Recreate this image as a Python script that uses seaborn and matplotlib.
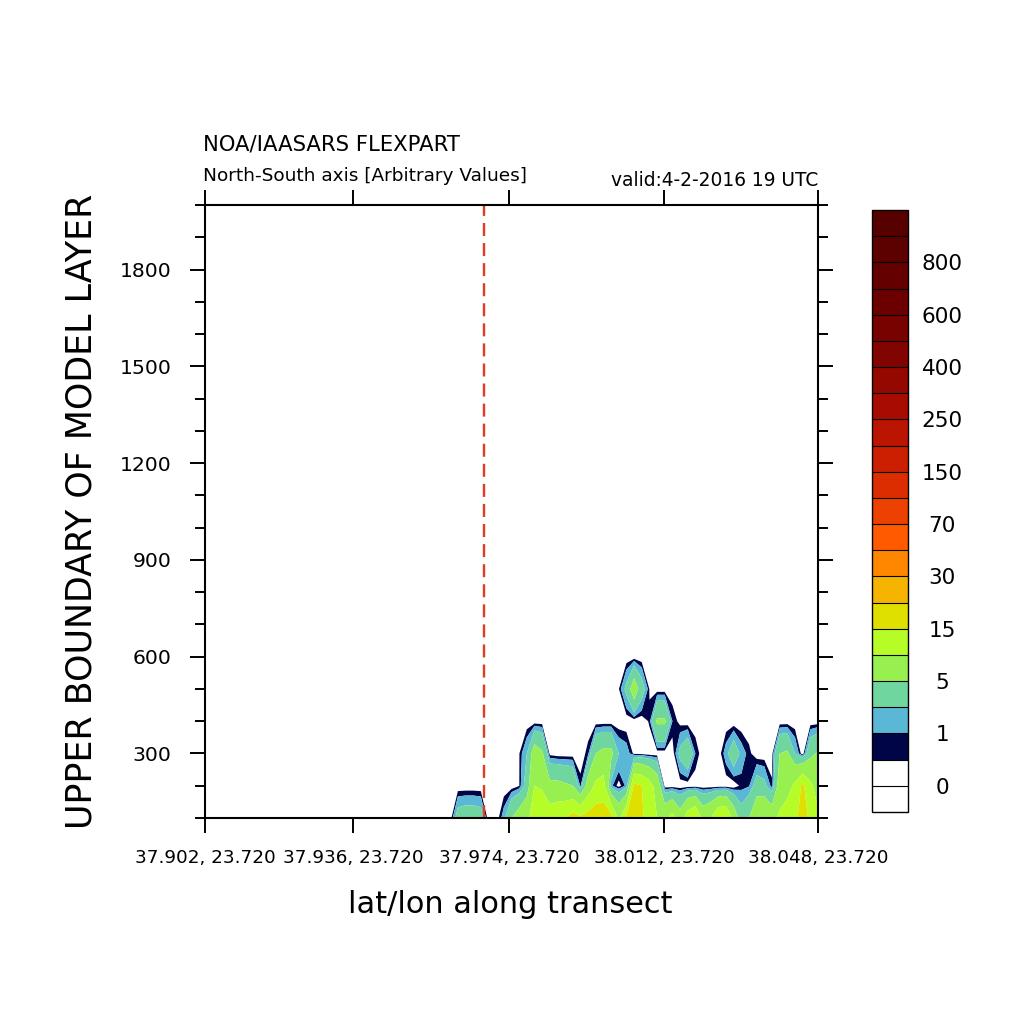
import numpy as np
import seaborn as sns
import matplotlib.pyplot as plt
from matplotlib.colors import ListedColormap, BoundaryNorm
from matplotlib.cm import ScalarMappable
from matplotlib.ticker import MultipleLocator, NullLocator

# transect points (index along the section) and model layer tops
n_points = 81
heights = [100, 200, 300, 400, 500, 600, 2000]

# values, columns 32..80 (left of col 32 the section is empty)
first_col = 32
conc_100 = [0, 3.0, 3.3, 3.3, 3.0, 0, 0, 1.5, 5, 7, 9, 12, 13, 13, 14, 15, 17, 16, 17, 18,
            18, 17, 9, 16, 17, 16, 12, 10, 9, 12, 7, 13, 16, 8, 10, 15, 16, 8, 3, 5,
            9, 10, 8, 11, 13, 14, 17, 14, 11]
conc_200 = [0, 0, 0, 0, 0, 0, 0, 0, 0, 0.45, 3, 10, 9.5, 6, 6, 5.5, 5, 0.8, 7, 11,
            12, 1.2, 0.2, 1.2, 16, 15, 12, 8, 0, 0, 0, 0, 0, 0, 0, 0, 0, 0, 0.7, 0.9,
            3, 2.5, 0.6, 7, 8, 11, 16, 11, 8]
conc_300 = [0, 0, 0, 0, 0, 0, 0, 0, 0, 0.45, 2, 7, 5.5, 0.2, 0, 0, 0, 0, 0.8, 5,
            6, 6, 2, 1.5, 0.3, 0.2, 0, 0, 0, 0, 2.5, 4, 1.0, 0, 0, 0, 1.5, 3.5, 1.5, 0.7,
            0, 0, 0.2, 5, 5.5, 2, 0, 4, 5.5]
conc_400 = [0, 0, 0, 0, 0, 0, 0, 0, 0, 0, 0, 0, 0, 0, 0, 0, 0, 0, 0, 0,
            0, 0, 0, 0, 0, 0, 0.6, 5.5, 5.5, 1.0, 0.2, 0, 0, 0, 0, 0, 0, 0, 0, 0,
            0, 0, 0, 0, 0, 0, 0, 0, 0]
conc_500 = [0, 0, 0, 0, 0, 0, 0, 0, 0, 0, 0, 0, 0, 0, 0, 0, 0, 0, 0, 0,
            0, 0, 0.45, 2.5, 7.5, 3, 0.45, 0, 0, 0, 0, 0, 0, 0, 0, 0, 0, 0, 0, 0,
            0, 0, 0, 0, 0, 0, 0, 0, 0]

# contour levels and label bar
bounds = [-1, 0, 0.5, 1, 2, 5, 10, 15, 20, 30, 50, 70, 100, 150, 200, 250, 300,
          400, 500, 600, 700, 800, 900, 1000]
bar_labels = [0, 1, 5, 15, 30, 70, 150, 250, 400, 600, 800]
fill_colors = ['#ffffff', '#ffffff', '#000548', '#5ab8d6', '#6fd6a0', '#98f050',
               '#b6fd28', '#dfdf00', '#f5b400', '#ff8700', '#ff5a00', '#ec4100',
               '#dc2d00', '#cc1e00', '#bb1400', '#a80c00', '#950800', '#820400',
               '#770200', '#6c0000', '#640000', '#5d0000', '#560000']

tick_pos = [0, 19.3, 39.7, 59.9, 80]
tick_text = ['37.902, 23.720', '37.936, 23.720', '37.974, 23.720',
             '38.012, 23.720', '38.048, 23.720']
marker_x = 36.4

sns.set_theme(style="ticks")
plt.rcParams['font.family'] = ['DejaVu Sans']
plt.rcParams['text.color'] = 'black'
plt.rcParams['xtick.color'] = 'black'
plt.rcParams['ytick.color'] = 'black'
plt.rcParams['axes.edgecolor'] = 'black'

Z = np.zeros((len(heights), n_points))
for i, row in enumerate([conc_100, conc_200, conc_300, conc_400, conc_500]):
    Z[i, first_col:] = row
cols = np.arange(n_points)

fig = plt.figure(figsize=(10.24, 10.24), dpi=100)
ax = fig.add_axes([205 / 1024, 1 - 818 / 1024, 613 / 1024, 613 / 1024])
cax = fig.add_axes([872 / 1024, 1 - 812 / 1024, 36 / 1024, 602 / 1024])

ax.contourf(cols, heights, Z, levels=bounds, colors=fill_colors, antialiased=True)
ax.axvline(marker_x, color='#e33b1e', lw=1.7, linestyle=(0, (5.5, 3)))

ax.set_xlim(0, 80)
ax.set_ylim(100, 2000)
ax.set_xticks(tick_pos)
ax.set_xticklabels(tick_text)
ax.xaxis.set_minor_locator(NullLocator())
ax.set_yticks(range(300, 1801, 300))
ax.yaxis.set_minor_locator(MultipleLocator(100))
ax.tick_params(axis='both', which='both', direction='out', top=True, right=True,
               labeltop=False, labelright=False, width=1.4, color='black',
               labelcolor='black')
ax.tick_params(axis='both', which='major', length=10.5)
ax.tick_params(axis='y', which='minor', length=7)
ax.tick_params(axis='x', labelsize=13.2, pad=11.5)
ax.tick_params(axis='y', labelsize=14.7, pad=13.5)
for s in ax.spines.values():
    s.set_visible(True)
    s.set_linewidth(1.5)
    s.set_color('black')
ax.grid(False)

# label bar
cmap = ListedColormap(fill_colors)
norm = BoundaryNorm(bounds, cmap.N)
cbar = fig.colorbar(ScalarMappable(norm=norm, cmap=cmap), cax=cax, boundaries=bounds,
                    spacing='uniform', ticks=bar_labels, drawedges=True)
cbar.outline.set_linewidth(1.0)
cbar.outline.set_edgecolor('black')
cbar.dividers.set_linewidth(0.8)
cbar.dividers.set_color('black')
cax.minorticks_off()
cax.tick_params(which='both', length=0, pad=24.5, labelsize=15.5, labelcolor='black')
cax.set_yticklabels([str(v) for v in bar_labels], ha='center')

fig.text(203 / 1024, 1 - 150 / 1024, 'NOA/IAASARS FLEXPART', fontsize=15.2,
         ha='left', va='baseline')
fig.text(203 / 1024, 1 - 181 / 1024, 'North-South axis [Arbitrary Values]', fontsize=13.3,
         ha='left', va='baseline')
fig.text(818 / 1024, 1 - 186 / 1024, 'valid:4-2-2016 19 UTC', fontsize=13.4,
         ha='right', va='baseline')
fig.text(510.5 / 1024, 1 - 913 / 1024, 'lat/lon along transect', fontsize=21.9,
         ha='center', va='baseline')
fig.text(82 / 1024, 1 - 511 / 1024, 'UPPER BOUNDARY OF MODEL LAYER', fontsize=25.1,
         rotation=90, ha='center', va='center')

fig.savefig('out.png', dpi=100, facecolor='white')
